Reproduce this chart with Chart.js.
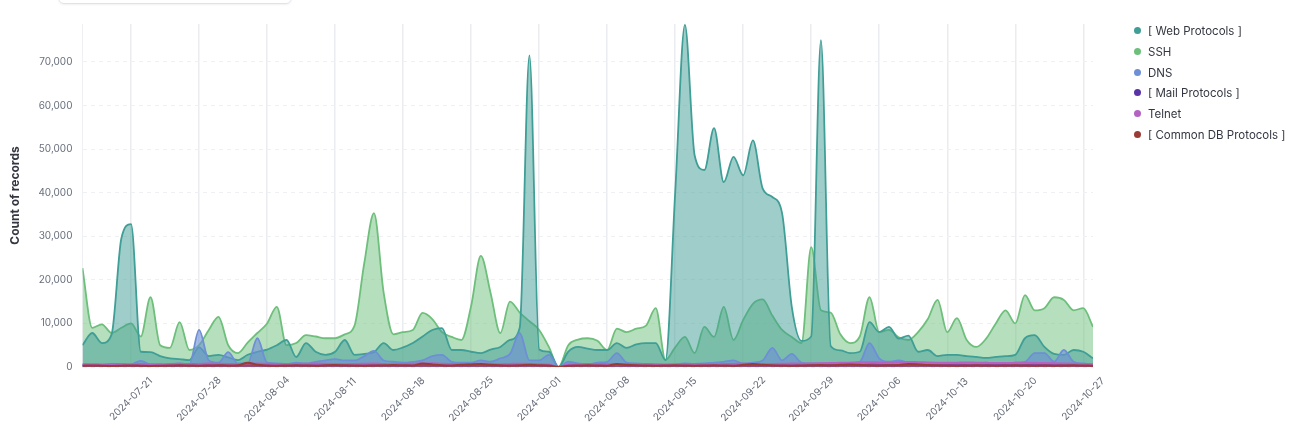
<!DOCTYPE html>
<html>
<head>
<meta charset="utf-8">
<script src="https://cdn.jsdelivr.net/npm/chart.js@4.4.1/dist/chart.umd.min.js"></script>
<style>
    body { margin: 0; background: #fff; font-family: Inter, "Noto Sans", sans-serif; }
    #wrap { position: relative; width: 1294px; height: 439px; overflow: hidden; }
    #searchBox { position: absolute; left: 58px; top: -30px; width: 232px; height: 32px; border: 1px solid #dfe3ea; border-radius: 6px; box-shadow: 0 1px 2px rgba(0,0,0,0.06); }
    #legend { position: absolute; left: 1134px; top: 22px; margin: 0; padding: 0; list-style: none; }
    #legend li { height: 20.8px; line-height: 18px; font-size: 11.5px; color: #343741; white-space: nowrap; }
    #legend span.dot { display: inline-block; width: 7px; height: 7px; border-radius: 50%; margin-right: 7px; vertical-align: 1px; }
</style>
</head>
<body>
<div id="wrap">
    <div id="searchBox"></div>
    <canvas id="protocolChart" width="1294" height="439"></canvas>
    <ul id="legend"></ul>
</div>
<script>
// first day of data, one value per day
const startDate = '2024-07-16';

const tickLabels = ['2024-07-21', '2024-07-28', '2024-08-04', '2024-08-11', '2024-08-18', '2024-08-25', '2024-09-01',
    '2024-09-08', '2024-09-15', '2024-09-22', '2024-09-29', '2024-10-06', '2024-10-13', '2024-10-20', '2024-10-27'];

const yTicks = [0, 10000, 20000, 30000, 40000, 50000, 60000, 70000];

const seriesNames = ['[ Web Protocols ]', 'SSH', 'DNS', '[ Mail Protocols ]', 'Telnet', '[ Common DB Protocols ]'];

const webProtocols = [
    5000, 7800, 5500, 7500, 29500,
    32800, 3500, 3400, 2500, 2000, 1800, 1600, 4500, 2500, 2800,
    2200, 1600, 2800, 3500, 4000, 5000, 6200, 2300, 5500, 3500,
    2800, 3500, 6200, 2800, 3000, 3400, 5500, 3900, 4500, 5500,
    7000, 8500, 8900, 3900, 3900, 3500, 3200, 4000, 4600, 6200,
    9000, 71500, 4000, 3500, 0, 3500, 4600, 4200, 3900, 3900,
    5500, 4400, 5200, 5500, 5500, 1600, 40000, 78500, 48600, 45200,
    54800, 42400, 48200, 44000, 52000, 41000, 39000, 35300, 13800, 6000,
    7000, 75000, 4800, 3800, 3200, 3500, 10300, 8000, 9200, 6500,
    7200, 3500, 3900, 2500, 2800, 2800, 2500, 2300, 2100, 2300,
    2500, 2800, 6600, 7300, 4600, 3000, 2800, 3900, 3500, 2000
];

const ssh = [
    22700, 9000, 9800, 7800, 9000,
    10000, 7000, 16000, 5000, 4400, 10300, 3900, 5000, 8500, 11500,
    5000, 3200, 5600, 7800, 10000, 13800, 5000, 5500, 7300, 7000,
    6600, 6600, 7500, 9500, 23800, 35300, 17000, 7500, 8000, 8500,
    12400, 11000, 8000, 6900, 6200, 14000, 25500, 17000, 7800, 15000,
    12500, 10500, 8500, 4600, 0, 5000, 6300, 6600, 6000, 3900,
    8800, 8000, 8800, 9500, 13500, 1600, 4500, 6900, 3200, 9200,
    6900, 13800, 6200, 10800, 14500, 15500, 11800, 8500, 6900, 5500,
    27500, 13000, 12500, 7500, 5500, 7000, 16000, 8000, 8500, 6800,
    6200, 8000, 11000, 15400, 8000, 11200, 6200, 4600, 6500, 10000,
    13000, 10000, 16500, 13000, 13500, 16000, 15400, 13000, 13500, 9200
];

const dns = [
    300, 400, 300, 400, 500,
    600, 1400, 500, 400, 600, 800, 600, 8500, 1500, 1000,
    3400, 800, 800, 6600, 1000, 800, 700, 1000, 800, 1200,
    1500, 1800, 1500, 1500, 2500, 3700, 1500, 1200, 1000, 1200,
    1500, 2500, 2800, 1200, 1000, 1000, 1500, 1200, 2000, 3000,
    7800, 1500, 1500, 2800, 0, 1200, 800, 600, 1000, 1200,
    3200, 1000, 800, 700, 600, 500, 600, 800, 700, 800,
    1000, 1200, 1500, 800, 1000, 1500, 4400, 1500, 3000, 1000,
    800, 800, 700, 800, 1000, 1200, 5500, 2000, 1200, 1500,
    1000, 800, 700, 600, 700, 800, 600, 700, 1000, 800,
    700, 1000, 1200, 3200, 3200, 1200, 3900, 1200, 800, 500
];

const mailProtocols = [
    500, 450, 400, 450, 500,
    450, 400, 450, 500, 400, 450, 500, 600, 450, 400,
    450, 400, 500, 600, 450, 400, 450, 500, 450, 400,
    450, 500, 400, 450, 500, 550, 450, 400, 450, 500,
    450, 500, 550, 450, 400, 450, 500, 450, 400, 450,
    600, 500, 450, 400, 0, 400, 450, 500, 450, 400,
    450, 400, 450, 500, 450, 400, 450, 500, 450, 400,
    450, 500, 550, 450, 400, 450, 500, 450, 400, 450,
    500, 450, 400, 450, 500, 450, 600, 500, 450, 400,
    450, 500, 450, 400, 450, 500, 450, 400, 450, 500,
    450, 400, 450, 600, 500, 450, 500, 450, 400, 350
];

const telnet = [
    600, 650, 600, 700, 650,
    600, 700, 650, 600, 700, 750, 650, 700, 800, 750,
    700, 650, 700, 800, 750, 700, 650, 700, 750, 800,
    750, 700, 650, 700, 750, 800, 700, 650, 700, 750,
    800, 850, 750, 700, 650, 700, 750, 700, 650, 700,
    750, 700, 650, 600, 0, 550, 600, 650, 700, 650,
    600, 650, 700, 650, 600, 550, 600, 650, 700, 650,
    600, 650, 700, 750, 700, 650, 700, 750, 800, 750,
    800, 850, 900, 950, 1000, 1050, 1100, 1050, 1000, 1100,
    1150, 1100, 1050, 1000, 950, 1000, 1050, 1000, 950, 900,
    900, 950, 1000, 950, 900, 850, 800, 750, 700, 650
];

const commonDb = [
    300, 350, 300, 250, 300,
    350, 300, 250, 300, 350, 400, 350, 300, 350, 400,
    350, 400, 1000, 500, 350, 300, 350, 400, 350, 300,
    400, 450, 400, 350, 300, 350, 400, 450, 400, 350,
    800, 600, 400, 350, 500, 600, 700, 500, 400, 350,
    400, 500, 400, 350, 0, 300, 350, 400, 350, 300,
    700, 500, 400, 350, 300, 350, 400, 350, 300, 350,
    400, 350, 300, 500, 700, 500, 400, 350, 300, 350,
    400, 450, 400, 500, 600, 500, 400, 350, 400, 450,
    700, 600, 450, 400, 350, 300, 350, 400, 350, 300,
    350, 400, 350, 300, 350, 300, 350, 400, 350, 300
];

const seriesColors = ['#3f9e96', '#6dbf7b', '#6e8fd6', '#5a33a6', '#b463c3', '#9b3b35'];

// days between startDate and a 'YYYY-MM-DD' string
function dayIndex(dateStr) {
    return Math.round((Date.parse(dateStr + 'T00:00:00Z') - Date.parse(startDate + 'T00:00:00Z')) / 86400000);
}

function withAlpha(hex, a) {
    const n = parseInt(hex.slice(1), 16);
    return 'rgba(' + (n >> 16) + ',' + ((n >> 8) & 255) + ',' + (n & 255) + ',' + a + ')';
}

const allSeries = [webProtocols, ssh, dns, mailProtocols, telnet, commonDb];
// SSH sits at the back, the small ones on top
const drawOrder = [5, 6, 4, 3, 2, 1];
const fillAlpha = [0.5, 0.5, 0.6, 0.5, 0.5, 0.5];

const datasets = allSeries.map((values, i) => ({
    label: seriesNames[i],
    data: values.map((v, d) => ({ x: d, y: v })),
    borderColor: seriesColors[i],
    backgroundColor: withAlpha(seriesColors[i], fillAlpha[i]),
    borderWidth: i < 3 ? 1.8 : 2,
    pointRadius: 0,
    fill: 'origin',
    cubicInterpolationMode: 'monotone',
    order: drawOrder[i]
}));

const tickValues = tickLabels.map(dayIndex);

// rotated date labels centred on each weekly grid line
const weekLabelsPlugin = {
    id: 'weekLabels',
    afterDraw(chart) {
        const { ctx, chartArea } = chart;
        const xScale = chart.scales.x;
        ctx.save();
        ctx.font = '10px Inter, "Noto Sans", sans-serif';
        ctx.fillStyle = '#646a77';
        ctx.textAlign = 'center';
        ctx.textBaseline = 'middle';
        tickLabels.forEach((label, i) => {
            const px = xScale.getPixelForValue(tickValues[i]);
            ctx.save();
            ctx.translate(px, chartArea.bottom + 32);
            ctx.rotate(-Math.PI / 4);
            ctx.fillText(label, 0, 0);
            ctx.restore();
        });
        ctx.restore();
    }
};

const canvas = document.getElementById('protocolChart');
new Chart(canvas, {
    type: 'line',
    data: { datasets: datasets },
    options: {
        responsive: false,
        animation: false,
        layout: { padding: { left: 8, right: 201, top: 24, bottom: 72 } },
        scales: {
            x: {
                type: 'linear',
                min: 0,
                max: ssh.length - 1,
                afterBuildTicks: (scale) => { scale.ticks = tickValues.map(v => ({ value: v })); },
                ticks: { display: false },
                grid: { color: '#ebecef', lineWidth: 1.5, drawTicks: false },
                border: { display: false }
            },
            y: {
                min: 0,
                max: 78700,
                afterBuildTicks: (scale) => { scale.ticks = yTicks.map(v => ({ value: v })); },
                ticks: {
                    padding: 10,
                    color: '#69707d',
                    font: { size: 10, family: 'Inter, "Noto Sans", sans-serif' },
                    callback: (v) => v.toLocaleString('en-US')
                },
                grid: { color: '#eef0f3', lineWidth: 1, drawTicks: false },
                border: { display: true, color: '#eef0f3', dash: [4, 4] },
                title: {
                    display: true,
                    text: 'Count of records',
                    color: '#343741',
                    font: { size: 12, weight: 'bold', family: 'Inter, "Noto Sans", sans-serif' },
                    padding: { top: 0, bottom: 6 }
                }
            }
        },
        plugins: {
            legend: { display: false },
            tooltip: { enabled: false }
        }
    },
    plugins: [weekLabelsPlugin]
});

// legend on the right, kept in the series order
const legendEl = document.getElementById('legend');
seriesNames.forEach((name, i) => {
    const li = document.createElement('li');
    const dot = document.createElement('span');
    dot.className = 'dot';
    dot.style.background = seriesColors[i];
    li.appendChild(dot);
    li.appendChild(document.createTextNode(name));
    legendEl.appendChild(li);
});
</script>
</body>
</html>
